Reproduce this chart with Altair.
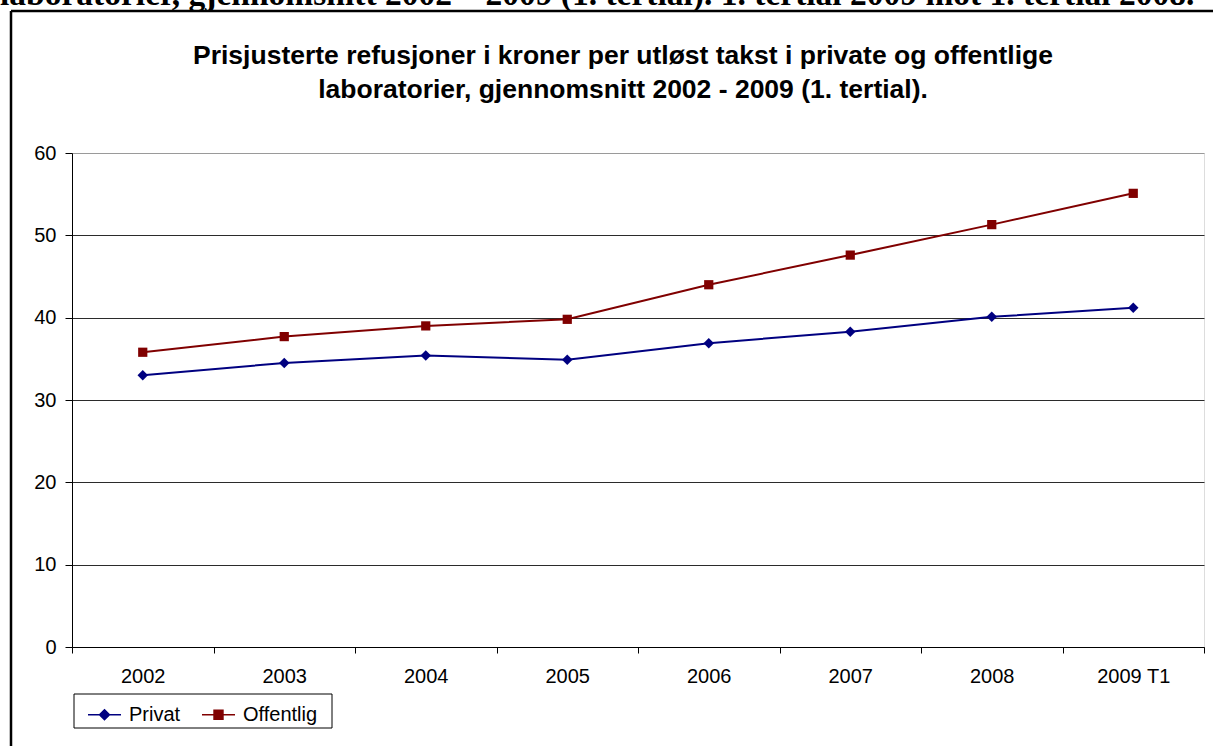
import altair as alt
import pandas as pd

years = ["2002", "2003", "2004", "2005", "2006", "2007", "2008", "2009 T1"]
privat = [33.0, 34.5, 35.4, 34.9, 36.9, 38.3, 40.1, 41.2]
offentlig = [35.8, 37.7, 39.0, 39.8, 44.0, 47.6, 51.3, 55.1]
series = ["Privat", "Offentlig"]
colors = ["#000080", "#800000"]
marker_shapes = ["diamond", "square"]
marker_sizes = [110, 85]
legend_paths = [
    "M-1,0L1,0M0,-0.3L0.3,0L0,0.3L-0.3,0Z",
    "M-1,0L1,0M-0.27,-0.27L0.27,-0.27L0.27,0.27L-0.27,0.27Z",
]
title_lines = [
    "Prisjusterte refusjoner i kroner per utløst takst i private og offentlige",
    "laboratorier, gjennomsnitt 2002 - 2009 (1. tertial).",
]
top_text = "laboratorier, gjennomsnitt 2002 – 2009 (1. tertial). 1. tertial 2009 mot 1. tertial 2008."

rows = []
for s, vals in zip(series, [privat, offentlig]):
    for yr, v in zip(years, vals):
        rows.append({"year": yr, "serie": s, "value": v})
df = pd.DataFrame(rows)

FONT = "Liberation Sans"

x_enc = alt.X(
    "year:N",
    sort=years,
    scale=alt.Scale(type="band", paddingInner=0, paddingOuter=0),
    bandPosition=0.5,
    axis=alt.Axis(
        title=None, labelAngle=0, tickBand="extent", grid=False,
        domainColor="black", tickColor="black", tickSize=6,
        labelFont=FONT, labelFontSize=20, labelColor="black", labelPadding=13,
    ),
)
y_enc = alt.Y(
    "value:Q",
    scale=alt.Scale(domain=[0, 60], nice=False),
    axis=alt.Axis(
        title=None, values=[0, 10, 20, 30, 40, 50, 60], grid=True,
        gridColor={"condition": {"test": "datum.value === 60", "value": "#9a9a9a"}, "value": "#2b2b2b"},
        gridWidth=1, domainColor="black", tickColor="black", tickSize=7,
        labelFont=FONT, labelFontSize=20, labelColor="black", labelPadding=9,
    ),
)
col_scale = alt.Scale(domain=series, range=colors)

lines = alt.Chart(df).mark_line(strokeWidth=2).encode(
    x=x_enc, y=y_enc,
    color=alt.Color("serie:N", scale=col_scale, legend=None),
    detail="serie:N",
)
points = alt.Chart(df).mark_point(filled=True, opacity=1).encode(
    x=x_enc, y=y_enc,
    color=alt.Color("serie:N", scale=col_scale, legend=None),
    shape=alt.Shape("serie:N", scale=alt.Scale(domain=series, range=marker_shapes), legend=None),
    size=alt.Size("serie:N", scale=alt.Scale(domain=series, range=marker_sizes), legend=None),
)

leg = alt.Legend(
    title=None, orient="none", legendX=2, legendY=541, direction="horizontal",
    padding=3,
    symbolSize=1089, symbolStrokeWidth=1.5, symbolOpacity=1, symbolOffset=10,
    labelFont=FONT, labelFontSize=20, labelColor="black", labelOffset=7,
    columnPadding=10,
)
legend_layer = alt.Chart(df).transform_filter("false").mark_point(filled=True).encode(
    x=x_enc, y=y_enc,
    fill=alt.Fill("serie:N", scale=alt.Scale(domain=series, range=colors), legend=leg),
    stroke=alt.Stroke("serie:N", scale=alt.Scale(domain=series, range=colors), legend=leg),
    shape=alt.Shape("serie:N", scale=alt.Scale(domain=series, range=legend_paths), legend=leg),
)

one = pd.DataFrame({"a": [0]})
legend_box = alt.Chart(one).mark_rect(fill="white", stroke="black", strokeWidth=1).encode(
    x=alt.value(2), x2=alt.value(260), y=alt.value(541), y2=alt.value(575)
)
frame_top = alt.Chart(one).mark_rule(color="black", strokeWidth=2.5).encode(
    x=alt.value(-61), x2=alt.value(1160), y=alt.value(-142)
)
frame_left = alt.Chart(one).mark_rule(color="black", strokeWidth=2.5).encode(
    x=alt.value(-61), y=alt.value(-142), y2=alt.value(620)
)
top_txt = alt.Chart(one).mark_text(
    text=top_text, font="Liberation Serif", fontWeight="bold", fontSize=33.5,
    align="left", baseline="alphabetic", color="black",
).encode(x=alt.value(-72), y=alt.value(-148))
t1 = alt.Chart(one).mark_text(
    text=title_lines[0], font=FONT, fontWeight="bold", fontSize=26.5,
    align="center", baseline="alphabetic", color="black",
).encode(x=alt.value(551), y=alt.value(-89))
t2 = alt.Chart(one).mark_text(
    text=title_lines[1], font=FONT, fontWeight="bold", fontSize=26.5,
    align="center", baseline="alphabetic", color="black",
).encode(x=alt.value(551), y=alt.value(-55))

chart = alt.layer(
    legend_box, lines, points, legend_layer, frame_top, frame_left, top_txt, t1, t2
).resolve_scale(
    color="independent", fill="independent", stroke="independent",
    shape="independent", size="independent"
).properties(
    width=1132, height=494,
    autosize=alt.AutoSizeParams(type="none"),
    padding={"left": 72, "top": 153, "right": 9, "bottom": 99},
).configure_view(stroke="#9a9a9a", strokeWidth=1.5).configure(background="white")

chart.save("out.html", embed_options={"renderer": "svg", "actions": False})
